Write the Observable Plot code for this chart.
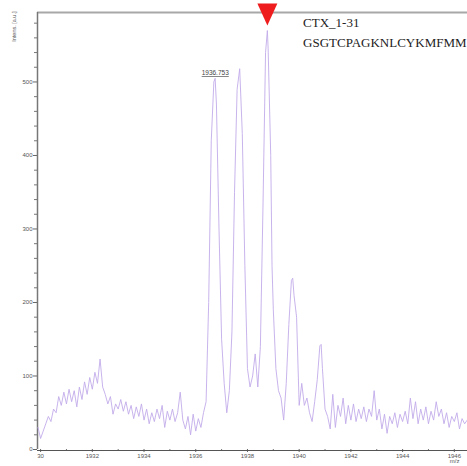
<!DOCTYPE html>
<html>
<head>
<meta charset="utf-8">
<script src="https://cdn.jsdelivr.net/npm/d3@7"></script>
<script src="https://cdn.jsdelivr.net/npm/@observablehq/plot@0.6"></script>
<style>
  html, body { margin: 0; padding: 0; background: #fff; }
</style>
</head>
<body>
<div id="chart"></div>
<script>
// m/z values and intensities
const mz = [
  1929.9, 1930.0, 1930.1, 1930.2, 1930.3, 1930.4, 1930.5, 1930.6, 1930.7, 1930.8, 1930.9,
  1931.0, 1931.1, 1931.2, 1931.3, 1931.4, 1931.5, 1931.6, 1931.7, 1931.8, 1931.9,
  1932.0, 1932.1, 1932.2, 1932.3, 1932.4, 1932.5, 1932.6, 1932.7, 1932.8, 1932.9,
  1933.0, 1933.1, 1933.2, 1933.3, 1933.4, 1933.5, 1933.6, 1933.7, 1933.8, 1933.9,
  1934.0, 1934.1, 1934.2, 1934.3, 1934.4, 1934.5, 1934.6, 1934.7, 1934.8, 1934.9,
  1935.0, 1935.1, 1935.2, 1935.3, 1935.4, 1935.5, 1935.6, 1935.7, 1935.8, 1935.9,
  1936.0, 1936.1, 1936.2, 1936.3, 1936.4, 1936.5, 1936.6, 1936.7, 1936.75, 1936.8, 1936.9,
  1937.0, 1937.1, 1937.2, 1937.3, 1937.4, 1937.5, 1937.6, 1937.7, 1937.8, 1937.9,
  1938.0, 1938.1, 1938.2, 1938.3, 1938.4, 1938.5, 1938.6, 1938.7, 1938.77, 1938.8, 1938.9, 1938.95,
  1939.0, 1939.1, 1939.2, 1939.3, 1939.4, 1939.5, 1939.6, 1939.7, 1939.75, 1939.8, 1939.9,
  1940.0, 1940.1, 1940.2, 1940.3, 1940.4, 1940.5, 1940.6, 1940.7, 1940.8, 1940.85, 1940.9,
  1941.0, 1941.1, 1941.2, 1941.3, 1941.4, 1941.5, 1941.6, 1941.7, 1941.8, 1941.9,
  1942.0, 1942.1, 1942.2, 1942.3, 1942.4, 1942.5, 1942.6, 1942.7, 1942.8, 1942.9,
  1943.0, 1943.1, 1943.2, 1943.3, 1943.4, 1943.5, 1943.6, 1943.7, 1943.8, 1943.9,
  1944.0, 1944.1, 1944.2, 1944.3, 1944.4, 1944.5, 1944.6, 1944.7, 1944.8, 1944.9,
  1945.0, 1945.1, 1945.2, 1945.3, 1945.4, 1945.5, 1945.6, 1945.7, 1945.8, 1945.9,
  1946.0, 1946.1, 1946.2, 1946.3, 1946.4, 1946.5
];
const intensity = [
  30, 15, 25, 35, 45, 38, 55, 50, 72, 60, 78,
  62, 82, 65, 80, 58, 85, 68, 92, 75, 98,
  82, 105, 90, 123, 85, 75, 62, 72, 48, 62,
  55, 68, 52, 65, 48, 60, 42, 58, 45, 62,
  40, 55, 35, 50, 38, 55, 42, 60, 30, 52,
  40, 55, 38, 50, 78, 40, 28, 45, 20, 48,
  25, 42, 30, 50, 65, 200, 420, 500, 505, 470, 300,
  150, 90, 50, 80, 160, 350, 490, 518, 430, 250,
  110, 85, 100, 130, 85, 140, 330, 540, 570, 545, 400, 250,
  190, 110, 80, 70, 40, 90, 170, 230, 233, 210, 180,
  60, 90, 60, 70, 50, 38, 65, 95, 141, 143, 110,
  55, 45, 28, 75, 30, 60, 45, 70, 35, 60,
  40, 62, 38, 55, 42, 58, 38, 55, 45, 80,
  40, 55, 28, 48, 22, 45, 35, 50, 30, 48,
  38, 52, 35, 70, 42, 65, 35, 55, 40, 58,
  35, 52, 40, 65, 45, 55, 35, 50, 30, 45,
  38, 50, 28, 42, 35, 40
];

const yMajor = [0, 100, 200, 300, 400, 500];
const yMinor = [20, 40, 60, 80, 120, 140, 160, 180, 220, 240, 260, 280, 320, 340, 360, 380, 420, 440, 460, 480, 520, 540, 560, 580];
const xMajor = [1930, 1932, 1934, 1936, 1938, 1940, 1942, 1944, 1946];
const xMajorLabels = ["30", "1932", "1934", "1936", "1938", "1940", "1942", "1944", "1946"];
const xMinor = [1931, 1933, 1935, 1937, 1939, 1941, 1943, 1945];

const peakLabels = [{mz: 1936.753, y: 512, text: "1936.753"}];
const marker = [{mz: 1938.77}];
const titleLines = [
  {mz: 1940.15, y: 575, text: "CTX_1-31"},
  {mz: 1940.15, y: 548, text: "GSGTCPAGKNLCYKMFMM"}
];

const spectrum = mz.map((m, i) => ({mz: m, intensity: intensity[i]}));

const xDomain = [1929.88, 1946.51];
const yTop = 594.5;

const downTriangle = {
  draw(ctx) {
    ctx.moveTo(-10, -9);
    ctx.lineTo(10, -9);
    ctx.lineTo(0, 13);
    ctx.closePath();
  }
};

const chart = Plot.plot({
  width: 467,
  height: 466,
  marginLeft: 37,
  marginRight: 0,
  marginTop: 12,
  marginBottom: 17,
  x: {domain: xDomain},
  y: {domain: [0, yTop]},
  style: {fontFamily: "'Liberation Sans', Arial, sans-serif", fontSize: "6px", color: "#555", background: "#fff"},
  marks: [
    Plot.axisY(yMajor, {tickSize: 4, tickPadding: 1, fontSize: 6, stroke: "#666", fill: "#555", label: null}),
    Plot.axisY(yMinor, {tickSize: 3, stroke: "#777", tickFormat: () => "", label: null}),
    Plot.axisX(xMajor, {tickSize: 3, tickPadding: 1, fontSize: 6, stroke: "#666", fill: "#555", tickFormat: (d) => xMajorLabels[xMajor.indexOf(d)], label: null}),
    Plot.axisX(xMinor, {tickSize: 2, stroke: "#777", tickFormat: () => "", label: null}),
    Plot.ruleY([yTop], {stroke: "#a8a8a8", strokeWidth: 2}),
    Plot.ruleX([xDomain[0]], {stroke: "#777", strokeWidth: 1.5}),
    Plot.ruleY([0], {stroke: "#555", strokeWidth: 1.2, dy: 1}),
    Plot.line(spectrum, {x: "mz", y: "intensity", stroke: "#c2abea", strokeWidth: 0.9}),
    Plot.text(peakLabels, {x: "mz", y: "y", text: "text", fontSize: 6.5, fill: "#444", className: "peaklabel"}),
    Plot.dot(marker, {x: "mz", y: () => yTop, symbol: downTriangle, fill: "#ee1c1c", stroke: "none"}),
    Plot.text(titleLines, {x: "mz", y: "y", text: "text", textAnchor: "start", lineAnchor: "bottom", fontFamily: "'Liberation Serif', 'Times New Roman', serif", fontSize: 13, fill: "#222"}),
    Plot.text(["Intens. [a.u.]"], {frameAnchor: "top-left", rotate: -90, textAnchor: "end", dx: -25, dy: -1, fontSize: 5.5, fill: "#555"}),
    Plot.text(["m/z"], {frameAnchor: "bottom-right", dx: -8, dy: 13, fontSize: 6, fill: "#555"})
  ]
});

d3.select(chart).selectAll(".peaklabel text").attr("text-decoration", "underline");
document.getElementById("chart").appendChild(chart);
</script>
</body>
</html>
